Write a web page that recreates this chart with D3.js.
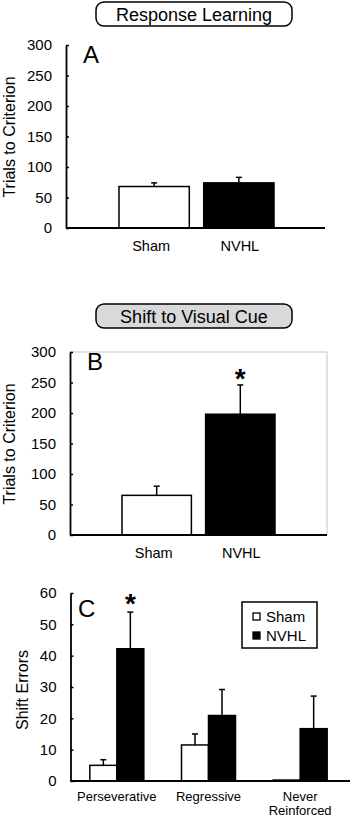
<!DOCTYPE html>
<html>
<head>
<meta charset="utf-8">
<script src="https://cdn.jsdelivr.net/npm/d3@7"></script>
<style>
  body { margin: 0; background: #fff; }
  svg { display: block; font-family: Arial, "Liberation Sans", sans-serif; }
</style>
</head>
<body>
<div id="chart"></div>
<script>
// Data (means and SEM, upward error bars only)
const groups = ["Sham", "NVHL"];
const responseMeans = [68, 74];
const responseSem = [6, 9];
const shiftMeans = [65, 198];
const shiftSem = [15, 48];
const errorCats = ["Perseverative", "Regressive", "Never Reinforced"];
const shamErrMeans = [5, 11.5, 0.3];
const shamErrSem = [1.8, 3.5, 0];
const nvhlErrMeans = [42.2, 20.9, 16.7];
const nvhlErrSem = [11.7, 8.3, 10.4];
const trialTicks = [0, 50, 100, 150, 200, 250, 300];
const errorTicks = [0, 10, 20, 30, 40, 50, 60];

const width = 350, height = 817;
const svg = d3.select("#chart").append("svg")
    .attr("width", width)
    .attr("height", height);

const fills = { Sham: "#fff", NVHL: "#000" };

// rounded title box above panels A and B
function titleBox(text, y, fill) {
    svg.append("rect")
        .attr("x", 96).attr("y", y)
        .attr("width", 196).attr("height", 24)
        .attr("rx", 8)
        .attr("fill", fill)
        .attr("stroke", "#000")
        .attr("stroke-width", 1.5);
    svg.append("text")
        .attr("x", 194).attr("y", y + 18.5)
        .attr("text-anchor", "middle")
        .attr("font-size", 18)
        .text(text);
}

function yAxis(g, scale, x, ticks) {
    g.append("g")
        .attr("transform", `translate(${x},0)`)
        .call(d3.axisLeft(scale).tickValues(ticks).tickSizeInner(-3).tickSizeOuter(0).tickPadding(14))
        .call(a => a.select(".domain").attr("stroke-width", 1.8))
        .call(a => a.selectAll(".tick line").attr("stroke-width", 1.5))
        .call(a => a.selectAll(".tick text").attr("font-size", 15).attr("fill", "#000"));
}

function errorBar(g, cx, yTop, yBar) {
    g.append("line")
        .attr("x1", cx).attr("x2", cx)
        .attr("y1", yBar).attr("y2", yTop)
        .attr("stroke", "#000").attr("stroke-width", 1.5);
    g.append("line")
        .attr("x1", cx - 3).attr("x2", cx + 3)
        .attr("y1", yTop).attr("y2", yTop)
        .attr("stroke", "#000").attr("stroke-width", 1.5);
}

// Panels A and B share the same two-bar layout
function twoBarPanel(opts) {
    const g = svg.append("g");
    const y = d3.scaleLinear().domain([0, 300]).range([opts.y0, opts.y0 - 183]);
    const x = d3.scaleBand().domain(groups).range(opts.barRange).paddingInner(0.17).paddingOuter(0);

    if (opts.frame) {
        g.append("path")
            .attr("d", `M${opts.axisX},${y(300)}H${opts.xEnd}V${y(0)}`)
            .attr("fill", "none")
            .attr("stroke", "#c4c4c4")
            .attr("stroke-width", 1);
    }

    groups.forEach((grp, i) => {
        g.append("rect")
            .attr("x", x(grp)).attr("y", y(opts.means[i]))
            .attr("width", x.bandwidth()).attr("height", y(0) - y(opts.means[i]))
            .attr("fill", fills[grp])
            .attr("stroke", "#000").attr("stroke-width", 1.5);
        errorBar(g, x(grp) + x.bandwidth() / 2, y(opts.means[i] + opts.sem[i]), y(opts.means[i]));
        g.append("text")
            .attr("x", x(grp) + x.bandwidth() / 2 - (i === 0 ? 3 : -1))
            .attr("y", y(0) + 23)
            .attr("text-anchor", "middle")
            .attr("font-size", 14.5)
            .text(grp);
    });

    if (opts.star) {
        const i = opts.star;
        g.append("text")
            .attr("x", x(groups[i]) + x.bandwidth() / 2)
            .attr("y", y(opts.means[i] + opts.sem[i]) + 3)
            .attr("text-anchor", "middle")
            .attr("font-size", 28)
            .attr("font-weight", "bold")
            .text("*");
    }

    yAxis(g, y, opts.axisX, trialTicks);
    g.append("line")
        .attr("x1", opts.axisX).attr("x2", opts.xEnd)
        .attr("y1", y(0)).attr("y2", y(0))
        .attr("stroke", "#000").attr("stroke-width", 2);

    g.append("text")
        .attr("x", opts.axisX + 17).attr("y", y(300) + 18)
        .attr("font-size", 24)
        .text(opts.letter);

    g.append("text")
        .attr("transform", `translate(15,${opts.y0 - 91}) rotate(-90)`)
        .attr("text-anchor", "middle")
        .attr("font-size", 16)
        .text("Trials to Criterion");
}

titleBox("Response Learning", 2, "#fff");
twoBarPanel({ y0: 228, axisX: 66, xEnd: 325, barRange: [119, 274], means: responseMeans, sem: responseSem, letter: "A" });

titleBox("Shift to Visual Cue", 304, "#d9d9d9");
twoBarPanel({ y0: 535, axisX: 70, xEnd: 327, barRange: [122, 275], means: shiftMeans, sem: shiftSem, letter: "B", frame: true, star: 1 });

// Panel C: grouped bars of shift errors
const gc = svg.append("g");
const yc = d3.scaleLinear().domain([0, 60]).range([781, 593]);
const xc = d3.scaleBand().domain(errorCats).range([71, 346]).padding(0);
const xs = d3.scaleBand().domain(groups).range([xc.bandwidth() / 2 - 27, xc.bandwidth() / 2 + 27]).padding(0);
const seriesMeans = { Sham: shamErrMeans, NVHL: nvhlErrMeans };
const seriesSem = { Sham: shamErrSem, NVHL: nvhlErrSem };

errorCats.forEach((cat, ci) => {
    groups.forEach(grp => {
        const m = seriesMeans[grp][ci], s = seriesSem[grp][ci];
        const bx = xc(cat) + xs(grp);
        gc.append("rect")
            .attr("x", bx).attr("y", yc(m))
            .attr("width", xs.bandwidth()).attr("height", yc(0) - yc(m))
            .attr("fill", fills[grp])
            .attr("stroke", "#000").attr("stroke-width", 1.5);
        if (s > 0) errorBar(gc, bx + xs.bandwidth() / 2, yc(m + s), yc(m));
    });
    const words = cat === "Never Reinforced" ? ["Never", "Reinforced"] : [cat];
    words.forEach((w, wi) => {
        gc.append("text")
            .attr("x", xc(cat) + xc.bandwidth() / 2)
            .attr("y", 801 + wi * 14)
            .attr("text-anchor", "middle")
            .attr("font-size", 13)
            .text(w);
    });
});

// significance star over perseverative NVHL
gc.append("text")
    .attr("x", xc(errorCats[0]) + xs("NVHL") + xs.bandwidth() / 2)
    .attr("y", yc(nvhlErrMeans[0] + nvhlErrSem[0]) + 1)
    .attr("text-anchor", "middle")
    .attr("font-size", 28)
    .attr("font-weight", "bold")
    .text("*");

yAxis(gc, yc, 70.5, errorTicks);
gc.append("line")
    .attr("x1", 70.5).attr("x2", 350)
    .attr("y1", yc(0)).attr("y2", yc(0))
    .attr("stroke", "#000").attr("stroke-width", 2);

gc.append("text")
    .attr("x", 78).attr("y", 617)
    .attr("font-size", 24)
    .text("C");

gc.append("text")
    .attr("transform", `translate(28,690) rotate(-90)`)
    .attr("text-anchor", "middle")
    .attr("font-size", 16)
    .text("Shift Errors");

// legend
const lg = gc.append("g");
lg.append("rect")
    .attr("x", 242).attr("y", 602)
    .attr("width", 75).attr("height", 46)
    .attr("fill", "#fff")
    .attr("stroke", "#000").attr("stroke-width", 1.5);
groups.forEach((grp, i) => {
    const cy = 616.5 + i * 19;
    lg.append("rect")
        .attr("x", 253).attr("y", cy - 3.5)
        .attr("width", 7).attr("height", 7)
        .attr("fill", fills[grp])
        .attr("stroke", "#000").attr("stroke-width", 1.3);
    lg.append("text")
        .attr("x", 266).attr("y", cy + 5.5)
        .attr("font-size", 15)
        .text(grp);
});
</script>
</body>
</html>
